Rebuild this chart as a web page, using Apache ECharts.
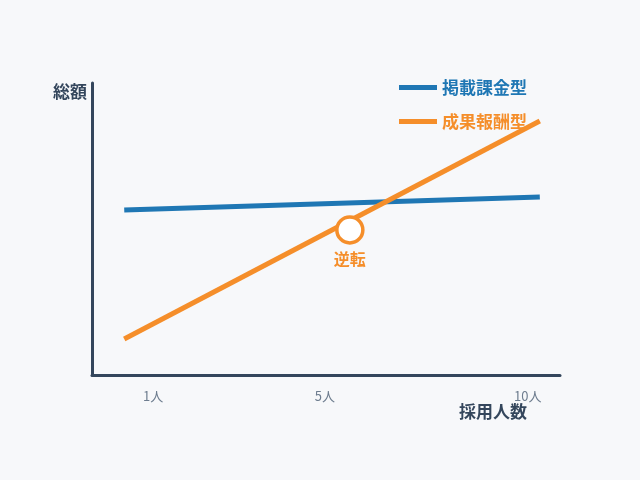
<!DOCTYPE html>
<html>
<head>
<meta charset="utf-8">
<script src="https://cdn.jsdelivr.net/npm/echarts@6/dist/echarts.min.js"></script>
<style>
html,body{margin:0;padding:0;background:#f7f8fa;}
#c{width:640px;height:480px;}
</style>
</head>
<body>
<div id="c"></div>
<script>
// Data (x: hires, y: relative total cost)
const seriesNames = ['掲載課金型', '成果報酬型'];
const listingFee = [[0.33, 56.5], [10, 61]];
const successFee = [[0.33, 12.3], [10, 87]];
const reversalPoint = [[5.58, 49.7]];
const reversalLabel = '逆転';
const xTickValues = [1, 5, 9.72];
const xTickLabels = ['1人', '5人', '10人'];
const xName = '採用人数';
const yName = '総額';

const BLUE = '#1f77b4';
const ORANGE = '#f58e2a';
const DARK = '#34465c';
const FONT = 'Noto Sans CJK JP';

const chart = echarts.init(document.getElementById('c'));
chart.setOption({
  backgroundColor: '#f7f8fa',
  animation: false,
  textStyle: { fontFamily: FONT },
  grid: { left: 92, right: 80, top: 83, bottom: 105, containLabel: false },
  legend: {
    orient: 'vertical',
    left: 394,
    top: 74,
    icon: 'rect',
    itemWidth: 38,
    itemHeight: 5,
    itemGap: 17,
    selectedMode: false,
    textStyle: { fontSize: 17, fontWeight: 'bold', fontFamily: FONT },
    data: [
      { name: seriesNames[0], textStyle: { color: BLUE } },
      { name: seriesNames[1], textStyle: { color: ORANGE } }
    ]
  },
  xAxis: {
    type: 'value',
    min: -0.42,
    max: 10.47,
    name: xName,
    nameLocation: 'end',
    nameGap: 0,
    nameTextStyle: {
      color: DARK, fontSize: 17, fontWeight: 'bold', fontFamily: FONT,
      align: 'right', verticalAlign: 'top', padding: [28, 33, 0, 0]
    },
    axisLine: { show: true, onZero: false, lineStyle: { color: DARK, width: 3 } },
    axisTick: { show: false },
    splitLine: { show: false },
    axisLabel: {
      customValues: xTickValues,
      formatter: function (v) {
        const i = xTickValues.indexOf(v);
        return i >= 0 ? xTickLabels[i] : '';
      },
      color: '#6e7d8f',
      fontSize: 13,
      margin: 15,
      fontFamily: FONT
    }
  },
  yAxis: {
    type: 'value',
    min: 0,
    max: 100,
    name: yName,
    nameLocation: 'end',
    nameGap: 0,
    nameTextStyle: {
      color: DARK, fontSize: 17, fontWeight: 'bold', fontFamily: FONT,
      align: 'right', verticalAlign: 'top', padding: [0, 5, 0, 0]
    },
    axisLine: { show: true, onZero: false, lineStyle: { color: DARK, width: 3 } },
    axisTick: { show: false },
    axisLabel: { show: false },
    splitLine: { show: false }
  },
  series: [
    {
      name: seriesNames[0],
      type: 'line',
      data: listingFee,
      symbol: 'none',
      color: BLUE,
      lineStyle: { color: BLUE, width: 5 },
      z: 2
    },
    {
      name: seriesNames[1],
      type: 'line',
      data: successFee,
      symbol: 'none',
      color: ORANGE,
      lineStyle: { color: ORANGE, width: 5 },
      z: 3
    },
    {
      name: reversalLabel,
      type: 'scatter',
      data: reversalPoint,
      symbol: 'circle',
      symbolSize: 26,
      itemStyle: { color: '#ffffff', borderColor: ORANGE, borderWidth: 3.5, opacity: 1 },
      label: {
        show: true,
        position: 'bottom',
        distance: 6,
        formatter: reversalLabel,
        color: ORANGE,
        fontSize: 16,
        fontWeight: 'bold',
        fontFamily: FONT
      },
      z: 4
    }
  ]
});
</script>
</body>
</html>
